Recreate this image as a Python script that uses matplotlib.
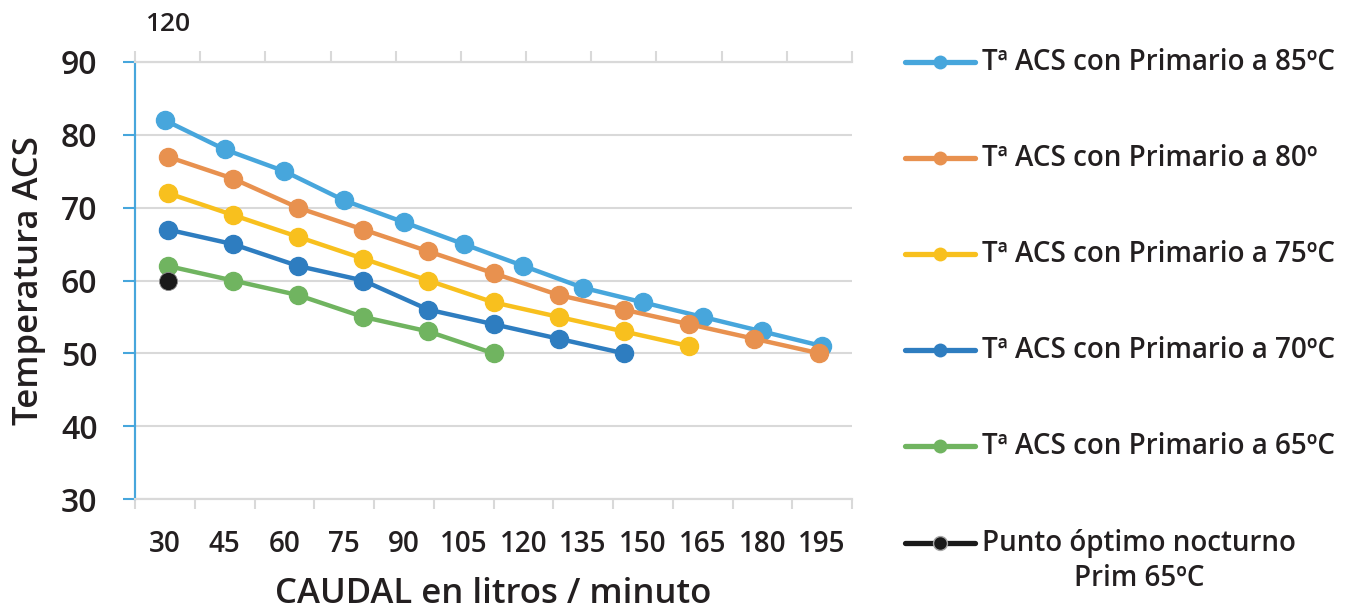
import matplotlib
matplotlib.use("Agg")
import matplotlib.pyplot as plt
from matplotlib.lines import Line2D

plt.rcParams['font.family'] = ['Open Sans', 'DejaVu Sans']

# categorias del eje inferior (serie 85) y datos de cada serie
caudal = ["30", "45", "60", "75", "90", "105", "120", "135", "150", "165", "180", "195"]
t85 = [82, 78, 75, 71, 68, 65, 62, 59, 57, 55, 53, 51]
t80 = [77, 74, 70, 67, 64, 61, 58, 56, 54, 52, 50]
t75 = [72, 69, 66, 63, 60, 57, 55, 53, 51]
t70 = [67, 65, 62, 60, 56, 54, 52, 50]
t65 = [62, 60, 58, 55, 53, 50]
optimo = [60]
n_sec = 11  # categorias del eje secundario
etiq_sec = ["120"] + [""] * (n_sec - 1)

nombres = ["Tª ACS con Primario a 85ºC", "Tª ACS con Primario a 80º",
           "Tª ACS con Primario a 75ºC", "Tª ACS con Primario a 70ºC",
           "Tª ACS con Primario a 65ºC", "Punto óptimo nocturno"]
colores = ["#47A6DC", "#E8914F", "#F8C01E", "#2E7DC0", "#70B460", "#1A1A1A"]

texto = "#231F20"
gris = "#D9D9D9"

fig = plt.figure(figsize=(13.57, 6.12), dpi=100)
ax = fig.add_axes([135/1357, 1-499/612, 717/1357, 437/612])
ax2 = ax.twiny()

ax.set_ylim(30, 90)
ax.set_yticks(range(30, 91, 10))
ax.yaxis.grid(True, color=gris, lw=1.5)
ax.set_axisbelow(True)

# eje inferior
ax.set_xlim(-0.5, len(caudal) - 0.5)
ax.set_xticks([i - 0.5 for i in range(len(caudal) + 1)])
ax.set_xticklabels([])
ax.set_xticks(range(len(caudal)), minor=True)
ax.set_xticklabels(caudal, minor=True)
ax.tick_params(axis='x', which='major', length=7, width=1.5, color=gris)
ax.tick_params(axis='x', which='minor', length=0, pad=22, labelsize=20, labelcolor=texto)
ax.tick_params(axis='y', length=9, width=1.5, color=colores[0], pad=18,
               labelsize=23, labelcolor=texto)
for lab in ax.get_yticklabels() + ax.get_xticklabels(minor=True):
    lab.set_fontweight('semibold')

# eje superior (secundario)
ax2.set_xlim(-0.5, n_sec - 0.5)
ax2.set_xticks([i - 0.5 for i in range(n_sec + 1)])
ax2.set_xticklabels([])
ax2.set_xticks(range(n_sec), minor=True)
ax2.set_xticklabels(etiq_sec, minor=True)
ax2.tick_params(axis='x', which='major', length=8, width=1.5, color=gris)
ax2.tick_params(axis='x', which='minor', length=0, pad=18, labelsize=19, labelcolor=texto)
for lab in ax2.get_xticklabels(minor=True):
    lab.set_fontweight('semibold')

for a in (ax, ax2):
    a.spines['right'].set_visible(False)
    a.spines['top'].set_color(gris)
    a.spines['top'].set_linewidth(1.5)
    a.spines['bottom'].set_color(gris)
    a.spines['bottom'].set_linewidth(1.5)
    a.spines['left'].set_color(colores[0])
    a.spines['left'].set_linewidth(1.5)

kw = dict(lw=3.2, marker='o', ms=13, solid_capstyle='round')
ax.plot(range(len(t85)), t85, color=colores[0], **kw)
for serie, c in zip([t80, t75, t70, t65], colores[1:5]):
    ax2.plot(range(len(serie)), serie, color=c, **kw)
ax2.plot(range(len(optimo)), optimo, color=colores[5], marker='o', ms=13,
         mec="#8C8C8C", mew=0.6, lw=0)

ax.set_ylabel("Temperatura ACS", fontsize=25, fontweight='semibold', color=texto, labelpad=11)
ax.set_xlabel("CAUDAL en litros / minuto", fontsize=25, fontweight='semibold', color=texto, labelpad=13)

# leyenda a mano
y_leg = [62, 158, 254, 350, 446, 543]
for y, c, nom in zip(y_leg, colores, nombres):
    yf = 1 - y/612
    mec = "#A6A6A6" if c == colores[5] else c
    fig.add_artist(Line2D([905/1357, 975/1357], [yf, yf], color=c, lw=3.8,
                          solid_capstyle='round', transform=fig.transFigure))
    fig.add_artist(Line2D([940/1357], [yf], color=c, marker='o', ms=10, mec=mec,
                          mew=1 if c == colores[5] else 0, transform=fig.transFigure))
    fig.text(982/1357, yf, nom, fontsize=20, fontweight='semibold', color=texto,
             ha='left', va='center')
fig.text(1139/1357, 1 - 578/612, "Prim 65ºC", fontsize=20, fontweight='semibold',
         color=texto, ha='center', va='center')

fig.savefig("out.png", dpi=100)
